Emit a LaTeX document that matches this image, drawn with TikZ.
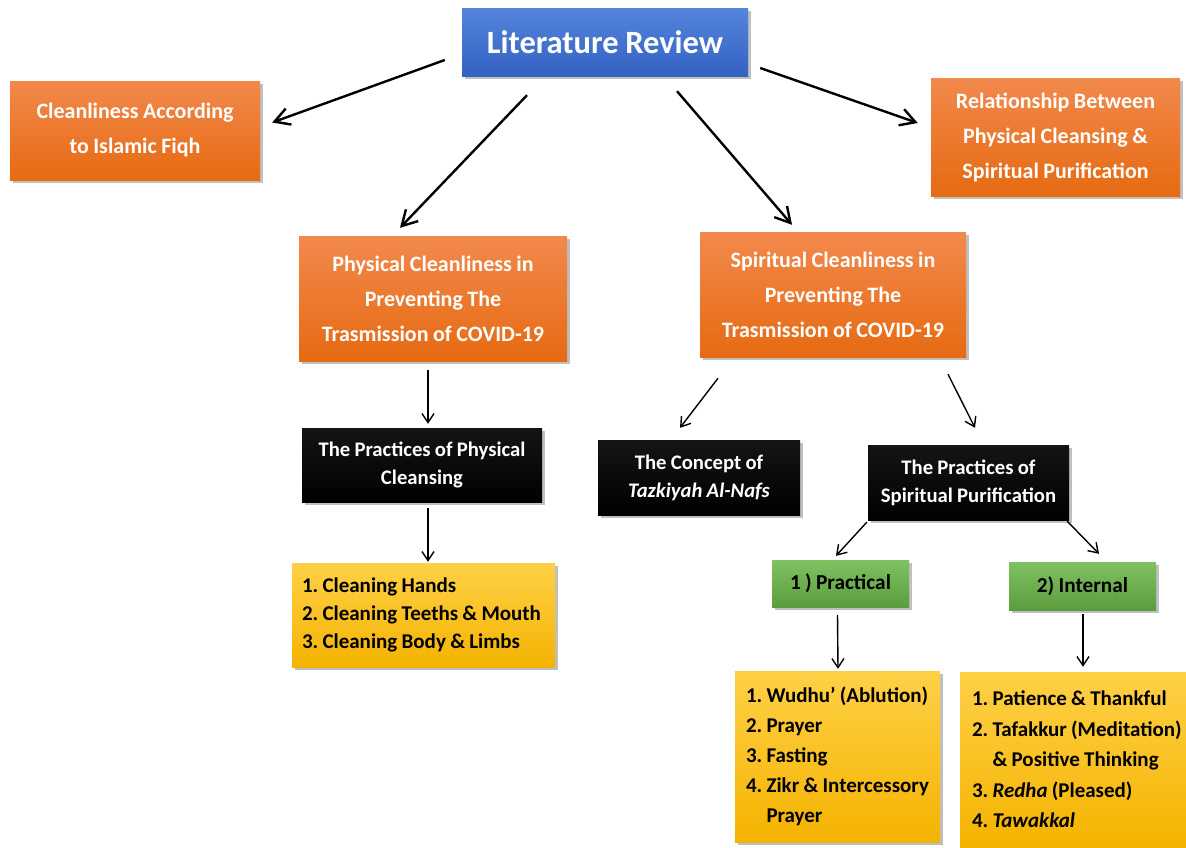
\documentclass[tikz,border=0pt]{standalone}
\usepackage{fontspec}
\setmainfont{Carlito}[WordSpace=0.9]
\usetikzlibrary{arrows.meta,shadows}
\definecolor{orT}{HTML}{F2894C}
\definecolor{orB}{HTML}{E66A12}
\definecolor{blT}{HTML}{5585DD}
\definecolor{blB}{HTML}{3461C2}
\definecolor{grT}{HTML}{80C262}
\definecolor{grB}{HTML}{5B9C3C}
\definecolor{ylT}{HTML}{FFD047}
\definecolor{ylB}{HTML}{F4B300}
\frenchspacing
\hfuzz=30pt
\tikzset{
  box/.style={rectangle, inner sep=0pt, align=center,
    drop shadow={shadow xshift=3pt, shadow yshift=-3pt, fill=black!45, opacity=0.55}},
  bluebox/.style={box, top color=blT, bottom color=blB, text=white,
    font=\fontsize{32.5}{36}\selectfont\bfseries},
  orbox/.style={box, top color=orT, bottom color=orB, text=white,
    font=\fontsize{22}{35}\selectfont\bfseries},
  blackbox/.style={box, top color=black!92, bottom color=black, text=white,
    font=\fontsize{20.7}{28}\selectfont\bfseries},
  grbox/.style={box, top color=grT, bottom color=grB, text=black,
    font=\fontsize{21.3}{24}\selectfont\bfseries},
  ylbox/.style={box, top color=ylT, bottom color=ylB, text=black, align=flush left,
    font=\fontsize{21}{28}\selectfont\bfseries},
  bigarrow/.style={line width=2.4pt, -{Straight Barb[length=15pt,width=17pt,line width=2.4pt]}},
  smallarrow/.style={line width=1.4pt, -{Straight Barb[length=9pt,width=12pt,line width=1.4pt]}},
}
\begin{document}
\begin{tikzpicture}[x=1pt,y=-1pt]
\useasboundingbox[fill=white] (0,0) rectangle (1186,847);

\node[bluebox, minimum width=286pt, minimum height=68pt] (lr) at (605,42) {Literature Review};
\node[orbox, minimum width=250pt, minimum height=99pt] (fiqh) at (135,130.5) {Cleanliness According\\to Islamic Fiqh};
\node[orbox, minimum width=249pt, minimum height=118pt] (rel) at (1055.5,137) {Relationship Between\\Physical Cleansing \&\\Spiritual Purification};
\node[orbox, minimum width=268pt, minimum height=125pt] (phys) at (433,298.5) {Physical Cleanliness in\\Preventing The\\Trasmission of COVID-19};
\node[orbox, minimum width=266pt, minimum height=125pt] (spir) at (833,294.5) {Spiritual Cleanliness in\\Preventing The\\Trasmission of COVID-19};
\node[blackbox, minimum width=240pt, minimum height=74pt] (pphys) at (422,465) {The Practices of Physical\\Cleansing};
\node[blackbox, minimum width=202pt, minimum height=75pt] (concept) at (699,477.5) {The Concept of\\\textit{Tazkiyah Al-Nafs}};
\node[blackbox, minimum width=201pt, minimum height=75pt] (pspir) at (968.5,482.5) {The Practices of\\Spiritual Purification};
\node[grbox, minimum width=137pt, minimum height=47pt] (practical) at (840.5,583.5) {1 ) Practical};
\node[grbox, minimum width=147pt, minimum height=48pt] (internal) at (1082.5,586) {2) Internal};
\node[ylbox, text width=243pt, inner xsep=10pt, minimum height=104pt] (list1) at (423.5,615)
  {1. Cleaning Hands\\2. Cleaning Teeths \& Mouth\\3. Cleaning Body \& Limbs};
\node[ylbox, text width=183pt, inner xsep=11pt, minimum height=171pt, font=\fontsize{21}{30}\selectfont\bfseries] (list2) at (837.5,756.5)
  {\mbox{1. Wudhu' (Ablution)}\\2. Prayer\\3. Fasting\\\mbox{4. Zikr \& Intercessory}\\\hphantom{4. }Prayer};
\node[ylbox, text width=202pt, inner xsep=12pt, minimum height=175pt, font=\fontsize{21}{30.5}\selectfont\bfseries] (list3) at (1073,759.5)
  {\mbox{1. Patience \& Thankful}\\\mbox{2. Tafakkur (Meditation)}\\\mbox{\hphantom{2. }\& Positive Thinking}\\\mbox{3. \textit{Redha} (Pleased)}\\4. \textit{Tawakkal}};

\draw[bigarrow] ([shift={(-17,18)}]lr.west) -- ([shift={(12,-8)}]fiqh.east);
\draw[bigarrow] ([shift={(-78,19)}]lr.south) -- ([shift={(-33,-8)}]phys.north);
\draw[bigarrow] ([shift={(72,15)}]lr.south) -- ([shift={(-41,-7)}]spir.north);
\draw[bigarrow] ([shift={(12,26)}]lr.east) -- ([shift={(-13,-14)}]rel.west);

\draw[smallarrow] ([shift={(-5,9)}]phys.south) -- ([shift={(6,-4)}]pphys.north);
\draw[smallarrow] ([shift={(6,6)}]pphys.south) -- ([shift={(4.5,-1)}]list1.north);
\draw[smallarrow] ([shift={(-115,21)}]spir.south) -- ([shift={(-19,-12)}]concept.north);
\draw[smallarrow] ([shift={(115,17)}]spir.south) -- ([shift={(6.5,-17)}]pspir.north);
\draw[smallarrow] ([shift={(-1,2)}]pspir.south west) -- ([shift={(-4.5,-4)}]practical.north);
\draw[smallarrow] ([shift={(-2,1)}]pspir.south east) -- ([shift={(16.5,-8)}]internal.north);
\draw[smallarrow] ([shift={(-3,8)}]practical.south) -- ([shift={(0.5,-2)}]list2.north);
\draw[smallarrow] ([shift={(0.5,4)}]internal.south) -- ([shift={(10,-5)}]list3.north);
\end{tikzpicture}
\end{document}
